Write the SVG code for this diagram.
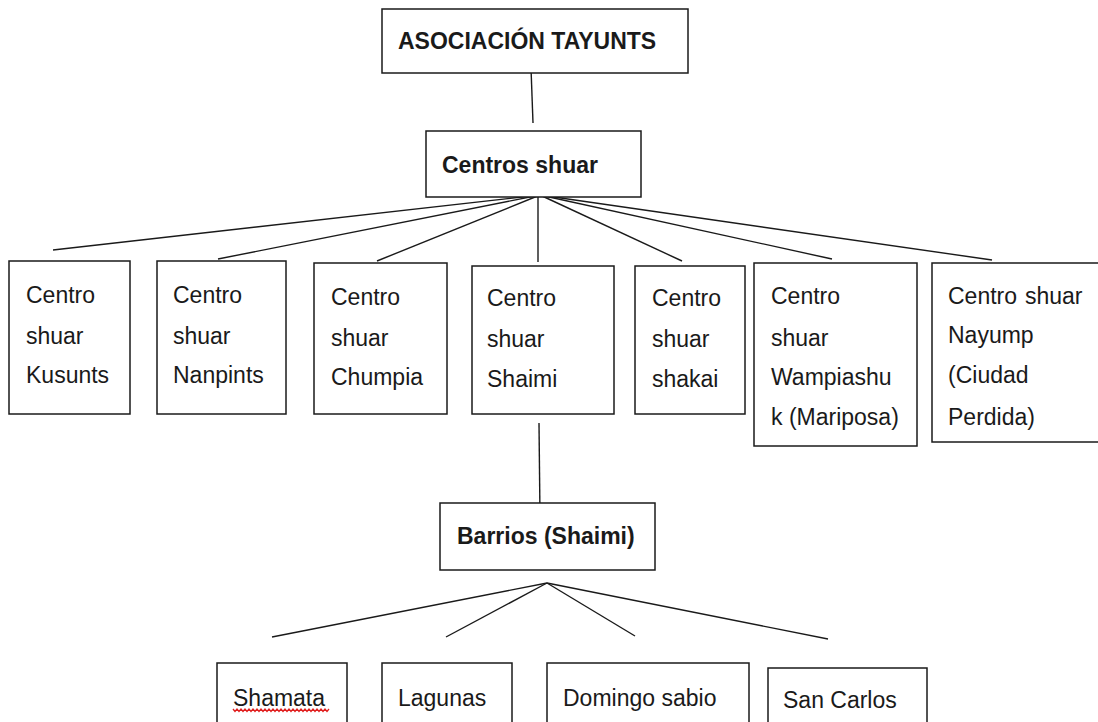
<svg xmlns="http://www.w3.org/2000/svg" width="1098" height="722" viewBox="0 0 1098 722">
<style>
.box{fill:#fff;stroke:#1a1a1a;stroke-width:1.5}
.ln{stroke:#1a1a1a;stroke-width:1.4;fill:none}
.t{font-family:"Liberation Sans",Arial,sans-serif;font-size:23px;fill:#1a1a1a}
.b{font-weight:bold}
</style>
<rect width="1098" height="722" fill="#fff"/>
<g id="connectors">
<line class="ln" x1="531" y1="68" x2="533" y2="123"/>
<line class="ln" x1="540" y1="195" x2="53" y2="250"/>
<line class="ln" x1="540" y1="195" x2="218" y2="259"/>
<line class="ln" x1="540" y1="195" x2="377" y2="261"/>
<line class="ln" x1="538" y1="191" x2="538" y2="262"/>
<line class="ln" x1="540" y1="195" x2="682" y2="261"/>
<line class="ln" x1="540" y1="195" x2="832" y2="259"/>
<line class="ln" x1="540" y1="195" x2="992" y2="260"/>
<line class="ln" x1="539" y1="423" x2="540" y2="517"/>
<line class="ln" x1="547" y1="583" x2="272" y2="637"/>
<line class="ln" x1="547" y1="583" x2="446" y2="637"/>
<line class="ln" x1="547" y1="583" x2="635" y2="636"/>
<line class="ln" x1="547" y1="583" x2="828" y2="639"/>
</g>
<g id="asociacion">
<rect class="box" x="382" y="9" width="306" height="64"/>
<text class="t b" x="398" y="49">ASOCIACIÓN TAYUNTS</text>
</g>
<g id="centros">
<rect class="box" x="426" y="131" width="215" height="66"/>
<text class="t b" x="442" y="173">Centros shuar</text>
</g>
<g id="kusunts">
<rect class="box" x="9" y="261" width="121" height="153"/>
<text class="t" x="26" y="303">Centro</text>
<text class="t" x="26" y="344">shuar</text>
<text class="t" x="26" y="383">Kusunts</text>
</g>
<g id="nanpints">
<rect class="box" x="157" y="261" width="129" height="153"/>
<text class="t" x="173" y="303">Centro</text>
<text class="t" x="173" y="344">shuar</text>
<text class="t" x="173" y="383">Nanpints</text>
</g>
<g id="chumpia">
<rect class="box" x="314" y="263" width="133" height="151"/>
<text class="t" x="331" y="305">Centro</text>
<text class="t" x="331" y="346">shuar</text>
<text class="t" x="331" y="385">Chumpia</text>
</g>
<g id="shaimi">
<rect class="box" x="472" y="266" width="142" height="148"/>
<text class="t" x="487" y="306">Centro</text>
<text class="t" x="487" y="347">shuar</text>
<text class="t" x="487" y="387">Shaimi</text>
</g>
<g id="shakai">
<rect class="box" x="635" y="266" width="110" height="148"/>
<text class="t" x="652" y="306">Centro</text>
<text class="t" x="652" y="347">shuar</text>
<text class="t" x="652" y="387">shakai</text>
</g>
<g id="wampiashuk">
<rect class="box" x="754" y="263" width="163" height="183"/>
<text class="t" x="771" y="304">Centro</text>
<text class="t" x="771" y="346">shuar</text>
<text class="t" x="771" y="385">Wampiashu</text>
<text class="t" x="771" y="425">k (Mariposa)</text>
</g>
<g id="nayump">
<rect class="box" x="932" y="263" width="170" height="179"/>
<text class="t" x="948" y="304">Centro</text>
<text class="t" x="1025" y="304">shuar</text>
<text class="t" x="948" y="343">Nayump</text>
<text class="t" x="948" y="383">(Ciudad</text>
<text class="t" x="948" y="425">Perdida)</text>
</g>
<g id="barrios">
<rect class="box" x="440" y="503" width="215" height="67"/>
<text class="t b" x="457" y="544">Barrios (Shaimi)</text>
</g>
<g id="shamata">
<rect class="box" x="217" y="663" width="130" height="80"/>
<text class="t" x="233" y="706">Shamata</text>
<path d="M233 709 l2 2.5 l2 -2.5 l2 2.5 l2 -2.5 l2 2.5 l2 -2.5 l2 2.5 l2 -2.5 l2 2.5 l2 -2.5 l2 2.5 l2 -2.5 l2 2.5 l2 -2.5 l2 2.5 l2 -2.5 l2 2.5 l2 -2.5 l2 2.5 l2 -2.5 l2 2.5 l2 -2.5 l2 2.5 l2 -2.5 l2 2.5 l2 -2.5 l2 2.5 l2 -2.5 l2 2.5 l2 -2.5 l2 2.5 l2 -2.5 l2 2.5 l2 -2.5 l2 2.5 l2 -2.5 l2 2.5 l2 -2.5 l2 2.5 l2 -2.5 l2 2.5 l2 -2.5 l2 2.5 l2 -2.5 l2 2.5 l2 -2.5 l2 2.5 l2 -2.5" fill="none" stroke="#e02020" stroke-width="1.3"/>
</g>
<g id="lagunas">
<rect class="box" x="382" y="663" width="130" height="80"/>
<text class="t" x="398" y="706">Lagunas</text>
</g>
<g id="domingo">
<rect class="box" x="547" y="663" width="202" height="80"/>
<text class="t" x="563" y="706">Domingo sabio</text>
</g>
<g id="sancarlos">
<rect class="box" x="768" y="668" width="159" height="80"/>
<text class="t" x="783" y="708">San Carlos</text>
</g>
</svg>
